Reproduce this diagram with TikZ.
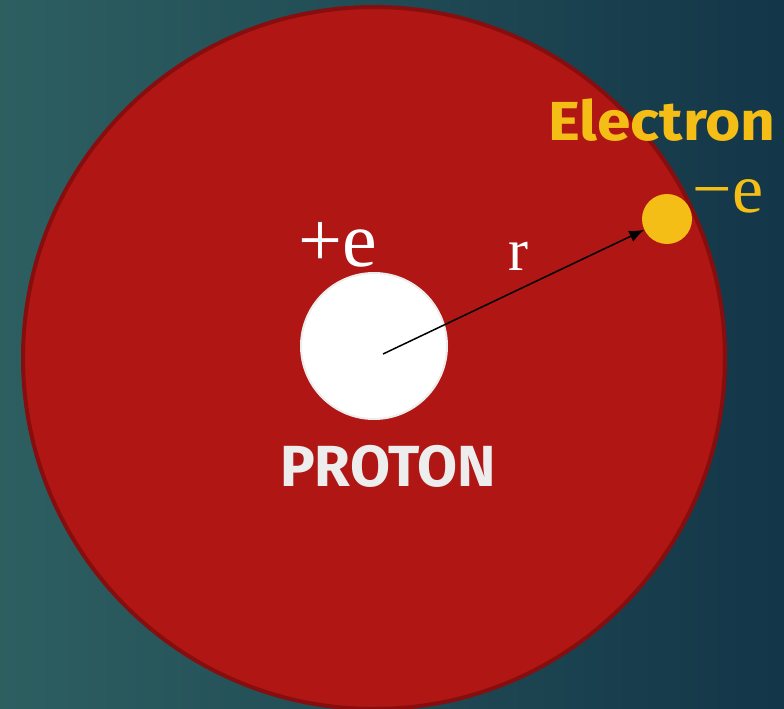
\documentclass[tikz,border=0pt]{standalone}
\usepackage{fontspec}
\setmainfont{Liberation Serif}
\newfontfamily\chalkfont{Fira Sans}
\usetikzlibrary{arrows.meta}
\definecolor{bgleft}{RGB}{45,95,97}
\definecolor{bgright}{RGB}{19,54,72}
\definecolor{atomred}{RGB}{175,22,20}
\definecolor{atomedge}{RGB}{135,14,14}
\definecolor{elecyellow}{RGB}{245,190,22}
\begin{document}
\begin{tikzpicture}[x=1pt, y=-1pt,
    charge/.style={inner sep=0pt, anchor=base},
    chalk/.style={inner sep=0pt, font=\chalkfont\bfseries\fontsize{58}{58}\selectfont}]
    % Background
    \useasboundingbox (0,0) rectangle (784,709);
    \shade[left color=bgleft, right color=bgright] (0,0) rectangle (784,709);
    % Atom
    \draw[atomedge, line width=4pt, fill=atomred] (374,358) circle (351);
    % Proton
    \node[circle, fill=white, draw=black!7, line width=2pt, minimum size=146pt, inner sep=0pt] (proton) at (374,346) {};
    \node[charge, white, font=\fontsize{78}{78}\selectfont] (pcharge) at (338,266) {+e};
    \node[chalk, white!93!black] (plabel) at (388,466) {PROTON};
    % Electron
    \node[circle, fill=elecyellow, minimum size=50pt, inner sep=0pt] (electron) at (667,219) {};
    \node[charge, elecyellow, font=\fontsize{70}{70}\selectfont] (echarge) at (728,212) {−e};
    \node[chalk, elecyellow, font=\chalkfont\bfseries\fontsize{55}{55}\selectfont] (elabel) at (662,120) {\scalebox{1.1}[1]{Electron}};
    % Radius
    \coordinate (rstart) at (383,354);
    \draw[-{Latex[length=15pt,width=12pt]}, line width=1.5pt] (rstart) -- (electron);
    \node[charge, white, font=\fontsize{60}{60}\selectfont] (rlabel) at (518,270) {r};
\end{tikzpicture}
\end{document}
